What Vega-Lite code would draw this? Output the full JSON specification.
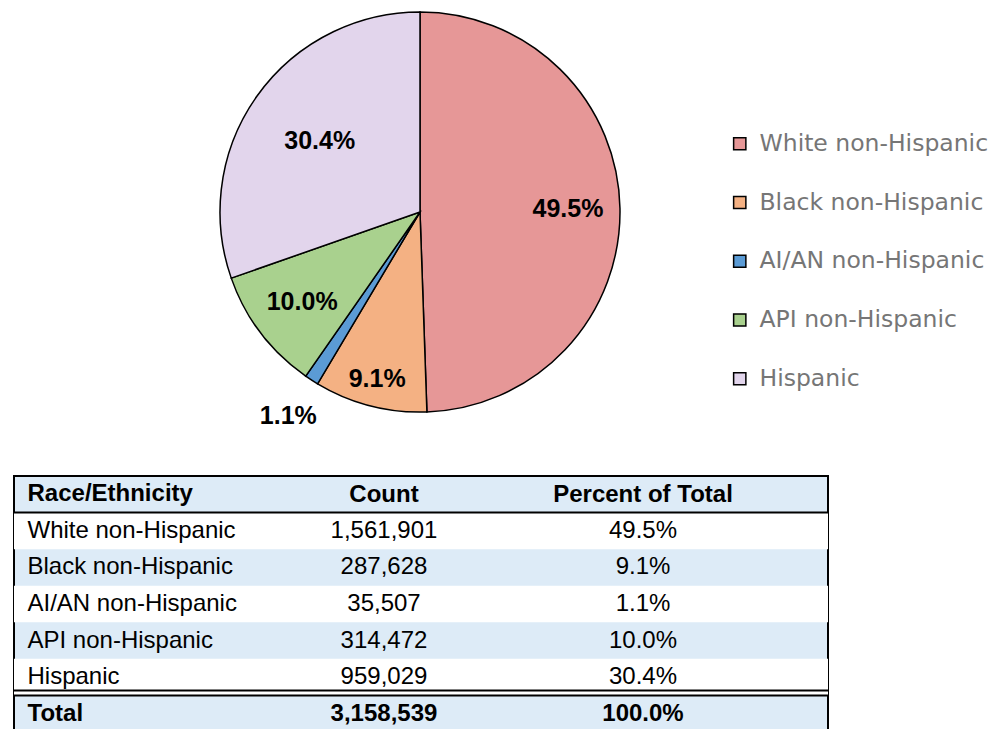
{
  "$schema": "https://vega.github.io/schema/vega-lite/v6.json",
  "padding": {"left": 12, "top": 0, "right": 0, "bottom": 0},
  "background": "white",
  "bounds": "flush",
  "config": {"view": {"stroke": null}, "font": "Liberation Sans"},
  "datasets": {
    "rows": [
      {"race": "White non-Hispanic", "count": 1561901, "pct": 0.495, "rank": 1},
      {"race": "Black non-Hispanic", "count": 287628, "pct": 0.091, "rank": 2},
      {"race": "AI/AN non-Hispanic", "count": 35507, "pct": 0.011, "rank": 3},
      {"race": "API non-Hispanic", "count": 314472, "pct": 0.100, "rank": 4},
      {"race": "Hispanic", "count": 959029, "pct": 0.304, "rank": 5},
      {"race": "Total", "count": 3158539, "pct": 1.0, "rank": 6}
    ]
  },
  "spacing": 52,
  "vconcat": [
    {
      "width": 812,
      "height": 424,
      "data": {"name": "rows"},
      "transform": [{"filter": "datum.race !== 'Total'"}],
      "encoding": {
        "theta": {"field": "count", "type": "quantitative", "stack": true},
        "order": {"field": "rank", "type": "quantitative"}
      },
      "layer": [
        {
          "mark": {"type": "arc", "outerRadius": 200, "stroke": "black", "strokeWidth": 1.5},
          "encoding": {
            "color": {
              "field": "race",
              "type": "nominal",
              "scale": {
                "domain": ["White non-Hispanic", "Black non-Hispanic", "AI/AN non-Hispanic", "API non-Hispanic", "Hispanic"],
                "range": ["#E69797", "#F4B183", "#5B9BD5", "#A9D18E", "#E2D5EC"]
              },
              "legend": {
                "orient": "none",
                "legendX": 714,
                "legendY": 132,
                "title": null,
                "symbolType": "square",
                "symbolSize": 150,
                "symbolStrokeColor": "black",
                "symbolStrokeWidth": 1.5,
                "labelFont": "DejaVu Sans",
                "labelFontSize": 23.5,
                "labelColor": "#767676",
                "labelOffset": 8,
                "rowPadding": 33.75,
                "labelLimit": 400
              }
            }
          }
        },
        {
          "mark": {"type": "text", "radius": 148, "fontSize": 25, "fontWeight": "bold", "color": "black"},
          "encoding": {
            "text": {
              "condition": {"test": "datum.race === 'White non-Hispanic' || datum.race === 'API non-Hispanic'", "field": "pct", "type": "quantitative", "format": ".1%"},
              "value": ""
            }
          }
        },
        {
          "mark": {"type": "text", "radius": 123, "fontSize": 25, "fontWeight": "bold", "color": "black"},
          "encoding": {
            "text": {
              "condition": {"test": "datum.race === 'Hispanic'", "field": "pct", "type": "quantitative", "format": ".1%"},
              "value": ""
            }
          }
        },
        {
          "mark": {"type": "text", "radius": 172, "fontSize": 25, "fontWeight": "bold", "color": "black"},
          "encoding": {
            "text": {
              "condition": {"test": "datum.race === 'Black non-Hispanic'", "field": "pct", "type": "quantitative", "format": ".1%"},
              "value": ""
            }
          }
        },
        {
          "mark": {"type": "text", "radius": 243, "fontSize": 25, "fontWeight": "bold", "color": "black"},
          "encoding": {
            "text": {
              "condition": {"test": "datum.race === 'AI/AN non-Hispanic'", "field": "pct", "type": "quantitative", "format": ".1%"},
              "value": ""
            }
          }
        }
      ]
    },
    {
      "width": 814,
      "height": 256,
      "data": {"name": "rows"},
      "view": {"stroke": "black", "strokeWidth": 2, "fill": "#DDEBF7"},
      "layer": [
        {
          "transform": [{"filter": {"field": "race", "oneOf": ["White non-Hispanic", "AI/AN non-Hispanic", "Hispanic"]}}],
          "mark": {"type": "rect", "fill": "white"},
          "encoding": {
            "y": {
              "field": "race",
              "type": "nominal",
              "scale": {
                "domain": ["Race/Ethnicity", "White non-Hispanic", "Black non-Hispanic", "AI/AN non-Hispanic", "API non-Hispanic", "Hispanic", "Total"],
                "paddingInner": 0,
                "paddingOuter": 0
              },
              "axis": {
                "orient": "left",
                "title": null,
                "domain": false,
                "ticks": false,
                "tickSize": 0,
                "minExtent": 0,
                "maxExtent": 0,
                "labelAlign": "left",
                "labelBaseline": "middle",
                "labelPadding": -13,
                "labelFontSize": 24,
                "labelColor": "black",
                "labelLimit": 400,
                "labelFontWeight": {"condition": {"test": "datum.value === 'Race/Ethnicity' || datum.value === 'Total'", "value": "bold"}, "value": "normal"},
                "zindex": 1
              }
            }
          }
        },
        {
          "transform": [{"filter": "datum.race === 'White non-Hispanic' || datum.race === 'Total'"}],
          "mark": {"type": "rule", "stroke": "black", "strokeWidth": 2},
          "encoding": {
            "y": {
              "field": "race",
              "type": "nominal",
              "bandPosition": 0,
              "scale": {
                "domain": ["Race/Ethnicity", "White non-Hispanic", "Black non-Hispanic", "AI/AN non-Hispanic", "API non-Hispanic", "Hispanic", "Total"],
                "paddingInner": 0,
                "paddingOuter": 0
              }
            }
          }
        },
        {
          "transform": [{"filter": "datum.race === 'Total'"}],
          "mark": {"type": "rule", "stroke": "black", "strokeWidth": 2, "yOffset": -5},
          "encoding": {
            "y": {
              "field": "race",
              "type": "nominal",
              "bandPosition": 0,
              "scale": {
                "domain": ["Race/Ethnicity", "White non-Hispanic", "Black non-Hispanic", "AI/AN non-Hispanic", "API non-Hispanic", "Hispanic", "Total"],
                "paddingInner": 0,
                "paddingOuter": 0
              }
            }
          }
        },
        {
          "mark": {"type": "text", "fontSize": 24, "color": "black", "baseline": "middle", "fontWeight": {"expr": "datum.race === 'Total' ? 'bold' : 'normal'"}},
          "encoding": {
            "y": {
              "field": "race",
              "type": "nominal",
              "scale": {
                "domain": ["Race/Ethnicity", "White non-Hispanic", "Black non-Hispanic", "AI/AN non-Hispanic", "API non-Hispanic", "Hispanic", "Total"],
                "paddingInner": 0,
                "paddingOuter": 0
              }
            },
            "x": {
              "datum": "Count",
              "type": "nominal",
              "scale": {"type": "band", "domain": ["Count", "Percent of Total"], "paddingInner": 0, "paddingOuter": 0.5714, "align": 0.8125},
              "axis": {
                "orient": "top",
                "title": null,
                "domain": false,
                "ticks": false,
                "tickSize": 0,
                "minExtent": 0,
                "maxExtent": 0,
                "labelAngle": 0,
                "labelBaseline": "middle",
                "labelPadding": -18,
                "labelFontSize": 24,
                "labelFontWeight": "bold",
                "labelColor": "black",
                "labelLimit": 400,
                "zindex": 1
              }
            },
            "text": {"field": "count", "type": "quantitative", "format": ","}
          }
        },
        {
          "mark": {"type": "text", "fontSize": 24, "color": "black", "baseline": "middle", "fontWeight": {"expr": "datum.race === 'Total' ? 'bold' : 'normal'"}},
          "encoding": {
            "y": {
              "field": "race",
              "type": "nominal",
              "scale": {
                "domain": ["Race/Ethnicity", "White non-Hispanic", "Black non-Hispanic", "AI/AN non-Hispanic", "API non-Hispanic", "Hispanic", "Total"],
                "paddingInner": 0,
                "paddingOuter": 0
              }
            },
            "x": {
              "datum": "Percent of Total",
              "type": "nominal",
              "scale": {"type": "band", "domain": ["Count", "Percent of Total"], "paddingInner": 0, "paddingOuter": 0.5714, "align": 0.8125}
            },
            "text": {"field": "pct", "type": "quantitative", "format": ".1%"}
          }
        }
      ]
    }
  ]
}
